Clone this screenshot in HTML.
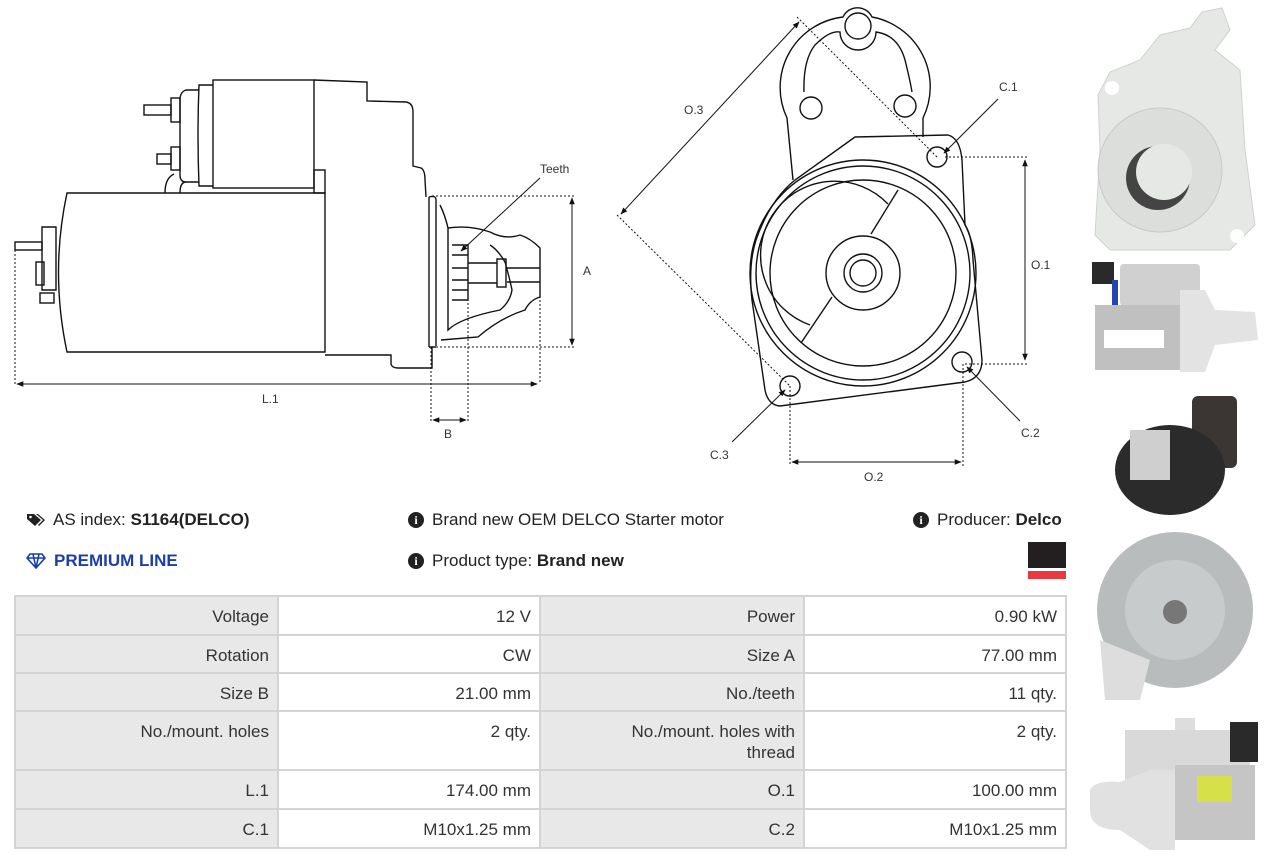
<!DOCTYPE html>
<html><head><meta charset="utf-8"><style>
body{margin:0;width:1269px;height:860px;background:#fff;position:relative;overflow:hidden;font-family:"Liberation Sans",Arial,sans-serif;color:#222}
.a{position:absolute}
.t{position:absolute;font-size:17px;white-space:nowrap}
.cell{position:absolute;box-sizing:border-box;text-align:right;padding:9px 8px 0 0;font-size:17px;color:#333;line-height:21px}
.l{background:#e8e8e8}.v{background:#fff}
svg text{font-family:"Liberation Sans",Arial,sans-serif;font-size:12px;fill:#333}
</style></head><body>
<svg class="a" style="left:0;top:0" width="1080" height="490" viewBox="0 0 1080 490">
<defs><marker id="ar" viewBox="0 0 10 10" refX="9" refY="5" markerWidth="7" markerHeight="7" orient="auto-start-reverse"><path d="M0,1 L10,5 L0,9z" fill="#111"/></marker></defs>
<g fill="none" stroke="#111" stroke-width="1.4">
<path d="M67,193 L325,193 L325,352 L67,352 Q50,272 67,193Z"/>
<rect x="213" y="80" width="101" height="108"/>
<path d="M213,85 L199,85 Q197,135 199,186 L213,186"/>
<path d="M199,90 L186,90 Q180,92 180,100 L180,175 Q180,182 186,182 L199,182"/>
<rect x="171" y="98" width="9" height="24"/><rect x="144" y="105" width="27" height="10"/>
<rect x="171" y="147" width="9" height="23"/><rect x="157" y="154" width="14" height="10"/>
<path d="M165,193 Q165,178 174,174 M180,193 Q180,182 186,182"/>
<rect x="314" y="170" width="11" height="23"/>
<path d="M314,80 L367,82 L367,101 L406,102 Q413,103 413,112 L413,166 L421,168 Q425,170 425,180 L426,197"/>
<path d="M325,355 L391,355 L391,364 Q392,368 398,368 L432,368 L432,347"/>
<path d="M429,197 L429,347 M429,197 Q436,195 436,200 L436,346 M429,347 L436,347"/>
<path d="M440,205 Q445,215 448,228 Q470,225 490,232 Q505,240 520,235 Q530,238 540,248 L540,297 Q530,300 525,310 Q500,318 478,337 L441,340"/>
<path d="M448,228 L448,330 Q460,318 500,310 Q510,302 512,290 Q510,280 505,262 Q498,250 490,245"/>
<path d="M452,245 L468,245 L468,300 L452,300 M452,255 L468,255 M452,268 L468,268 M452,280 L468,280 M452,290 L468,290"/>
<path d="M468,263 L497,263 M468,283 L497,283 M507,268 L540,268 M507,282 L540,282"/>
<rect x="497" y="259" width="9" height="28"/>
<path d="M42,227 L56,227 L56,290 L42,290 Z"/><rect x="36" y="262" width="8" height="23"/>
<rect x="15" y="242" width="27" height="8"/><rect x="40" y="293" width="14" height="10"/>
</g>
<g fill="none" stroke="#111" stroke-width="1" stroke-dasharray="2,2">
<path d="M432,196 L575,196 M432,347 L575,347 M15,250 L15,384 M540,248 L540,384 M431,347 L431,422 M468,263 L468,422"/>
<path d="M797,17 L937,157 M617,215 L790,386 M945,157 L1028,157 M965,364 L1028,364 M790,386 L790,466 M963,364 L963,466"/>
</g>
<g stroke="#111" stroke-width="1" fill="none">
<line x1="572" y1="198" x2="572" y2="345" marker-start="url(#ar)" marker-end="url(#ar)"/>
<line x1="17" y1="384" x2="537" y2="384" marker-start="url(#ar)" marker-end="url(#ar)"/>
<line x1="433" y1="420" x2="466" y2="420" marker-start="url(#ar)" marker-end="url(#ar)"/>
<line x1="540" y1="178" x2="461" y2="251" marker-end="url(#ar)"/>
<line x1="1025" y1="160" x2="1025" y2="360" marker-start="url(#ar)" marker-end="url(#ar)"/>
<line x1="792" y1="462" x2="961" y2="462" marker-start="url(#ar)" marker-end="url(#ar)"/>
<line x1="799" y1="22" x2="621" y2="214" marker-start="url(#ar)" marker-end="url(#ar)"/>
<line x1="998" y1="99" x2="944" y2="153" marker-end="url(#ar)"/>
<line x1="1020" y1="421" x2="967" y2="367" marker-end="url(#ar)"/>
<line x1="732" y1="442" x2="785" y2="390" marker-end="url(#ar)"/>
</g>
<g fill="none" stroke="#111" stroke-width="1.4">
<path d="M793,180 L787,118 A71,71 0 0 1 843,17 A16,16 0 0 1 872,17 A71,71 0 0 1 923,118 L923,137"/>
<path d="M804,92 Q803,60 815,45 Q830,30 840,32 A16,16 0 0 0 876,32 Q898,35 905,60 Q910,80 912,92"/>
<circle cx="858" cy="26" r="13"/><circle cx="811" cy="108" r="11"/><circle cx="905" cy="106" r="11"/>
<path d="M855,137 L948,135 Q960,138 962,160 L965,225 Q972,235 973,260 L982,360 Q982,378 965,382 L780,406 Q768,405 765,390 L752,300 Q748,265 756,240 Q770,200 795,180 Z"/>
<circle cx="863" cy="273" r="113"/><circle cx="863" cy="273" r="107"/><circle cx="863" cy="273" r="93"/>
<path d="M888,204 A74,74 0 1 0 810,325"/>
<line x1="898" y1="190" x2="871" y2="234"/><line x1="832" y1="297" x2="801" y2="343"/>
<circle cx="863" cy="273" r="37"/><circle cx="863" cy="273" r="19"/><circle cx="863" cy="273" r="13"/>
<circle cx="937" cy="157" r="10"/><circle cx="962" cy="362" r="10"/><circle cx="790" cy="386" r="10"/>
</g>
<text x="540" y="173">Teeth</text><text x="583" y="275">A</text><text x="262" y="403">L.1</text><text x="444" y="438">B</text>
<text x="684" y="114">O.3</text><text x="999" y="91">C.1</text><text x="1031" y="269">O.1</text><text x="1021" y="437">C.2</text><text x="710" y="459">C.3</text><text x="864" y="481">O.2</text>
</svg>
<svg class="a" style="left:1080px;top:0" width="189" height="860">
<path d="M122,12 L142,8 L150,30 L135,50 L160,70 L165,150 L175,225 L150,250 L30,250 L15,235 L20,150 L18,95 L30,72 L60,60 L80,35 L110,28Z" fill="#e6e8e6" stroke="#cfd2cf"/>
<circle cx="80" cy="170" r="62" fill="#dcdedc" stroke="#c8cac8"/>
<circle cx="78" cy="178" r="32" fill="#444"/><circle cx="84" cy="172" r="28" fill="#e6e8e6"/>
<circle cx="32" cy="88" r="7" fill="#fff"/><circle cx="157" cy="236" r="7" fill="#fff"/>
<rect x="12" y="262" width="22" height="22" fill="#2a2a2a"/>
<rect x="40" y="264" width="80" height="42" rx="4" fill="#cfd0cf"/>
<rect x="15" y="305" width="85" height="65" fill="#bfc0bf"/>
<rect x="24" y="330" width="60" height="18" fill="#fff"/>
<path d="M100,290 L125,290 L135,310 L175,312 L178,340 L135,345 L125,372 L100,372Z" fill="#e2e3e2"/>
<rect x="32" y="280" width="6" height="25" fill="#2346b0"/>
<rect x="112" y="396" width="45" height="72" rx="6" fill="#3b3533"/>
<ellipse cx="90" cy="470" rx="55" ry="45" fill="#2b2b2b"/>
<rect x="50" y="430" width="40" height="50" fill="#cfcfcf"/>
<circle cx="95" cy="610" r="78" fill="#b9bcbd"/><circle cx="95" cy="610" r="50" fill="#c8cbcc"/><circle cx="95" cy="612" r="12" fill="#777"/>
<path d="M20,640 L25,700 L60,700 L70,660Z" fill="#dcdddc"/>
<rect x="95" y="718" width="20" height="40" fill="#ddd"/>
<rect x="45" y="730" width="125" height="50" fill="#d8d9d8"/>
<rect x="150" y="722" width="28" height="40" fill="#2a2a2a"/>
<rect x="95" y="765" width="80" height="75" fill="#c4c5c4"/>
<rect x="117" y="776" width="35" height="26" fill="#d6e14a"/>
<path d="M10,790 Q15,780 40,782 L70,770 L95,770 L95,850 L70,850 L40,830 Q10,830 10,810Z" fill="#e0e1e0"/>
</svg>
<svg class="a" style="left:26px;top:512px" width="20" height="16"><path d="M1,2 L8,2 L15,8 L9,14 L1,7Z" fill="#222"/><path d="M10,2 L12,2 L19,8 L13,14 L12,13 L17,8Z" fill="#222"/><circle cx="4.5" cy="5" r="1.3" fill="#fff"/></svg>
<div class="t" style="left:53px;top:510px">AS index: <b>S1164(DELCO)</b></div>
<svg class="a" style="left:26px;top:553px" width="20" height="16"><path d="M4,1 L16,1 L19,5 L10,15 L1,5Z M1,5 L19,5 M7,1 L10,15 L13,1" fill="none" stroke="#1a3fa8" stroke-width="1.6"/></svg>
<div class="t" style="left:54px;top:551px;color:#1a3fa8;font-weight:bold">PREMIUM LINE</div>
<div class="a" style="left:408px;top:512px;width:16px;height:16px;border-radius:50%;background:#222;color:#fff;font:bold 12px 'Liberation Serif',serif;text-align:center;line-height:16px">i</div>
<div class="t" style="left:432px;top:510px">Brand new OEM DELCO Starter motor</div>
<div class="a" style="left:408px;top:553px;width:16px;height:16px;border-radius:50%;background:#222;color:#fff;font:bold 12px 'Liberation Serif',serif;text-align:center;line-height:16px">i</div>
<div class="t" style="left:432px;top:551px">Product type: <b>Brand new</b></div>
<div class="a" style="left:913px;top:512px;width:16px;height:16px;border-radius:50%;background:#222;color:#fff;font:bold 12px 'Liberation Serif',serif;text-align:center;line-height:16px">i</div>
<div class="t" style="left:937px;top:510px">Producer: <b>Delco</b></div>
<div class="a" style="left:1028px;top:542px;width:38px;height:26px;background:#231f20"></div>
<div class="a" style="left:1028px;top:571px;width:38px;height:8px;background:#e8393f"></div>
<div class="a" style="left:14px;top:595px;width:1053px;height:254px;background:#d4d4d4"></div>
<div class="cell l" style="left:16px;top:597px;width:261px;height:37px">Voltage</div>
<div class="cell v" style="left:279px;top:597px;width:260px;height:37px">12 V</div>
<div class="cell l" style="left:541px;top:597px;width:262px;height:37px">Power</div>
<div class="cell v" style="left:805px;top:597px;width:260px;height:37px">0.90 kW</div>
<div class="cell l" style="left:16px;top:636px;width:261px;height:36px">Rotation</div>
<div class="cell v" style="left:279px;top:636px;width:260px;height:36px">CW</div>
<div class="cell l" style="left:541px;top:636px;width:262px;height:36px">Size A</div>
<div class="cell v" style="left:805px;top:636px;width:260px;height:36px">77.00 mm</div>
<div class="cell l" style="left:16px;top:674px;width:261px;height:36px">Size B</div>
<div class="cell v" style="left:279px;top:674px;width:260px;height:36px">21.00 mm</div>
<div class="cell l" style="left:541px;top:674px;width:262px;height:36px">No./teeth</div>
<div class="cell v" style="left:805px;top:674px;width:260px;height:36px">11 qty.</div>
<div class="cell l" style="left:16px;top:712px;width:261px;height:57px">No./mount. holes</div>
<div class="cell v" style="left:279px;top:712px;width:260px;height:57px">2 qty.</div>
<div class="cell l" style="left:541px;top:712px;width:262px;height:57px">No./mount. holes with<br>thread</div>
<div class="cell v" style="left:805px;top:712px;width:260px;height:57px">2 qty.</div>
<div class="cell l" style="left:16px;top:771px;width:261px;height:37px">L.1</div>
<div class="cell v" style="left:279px;top:771px;width:260px;height:37px">174.00 mm</div>
<div class="cell l" style="left:541px;top:771px;width:262px;height:37px">O.1</div>
<div class="cell v" style="left:805px;top:771px;width:260px;height:37px">100.00 mm</div>
<div class="cell l" style="left:16px;top:810px;width:261px;height:37px">C.1</div>
<div class="cell v" style="left:279px;top:810px;width:260px;height:37px">M10x1.25 mm</div>
<div class="cell l" style="left:541px;top:810px;width:262px;height:37px">C.2</div>
<div class="cell v" style="left:805px;top:810px;width:260px;height:37px">M10x1.25 mm</div>
</body></html>
